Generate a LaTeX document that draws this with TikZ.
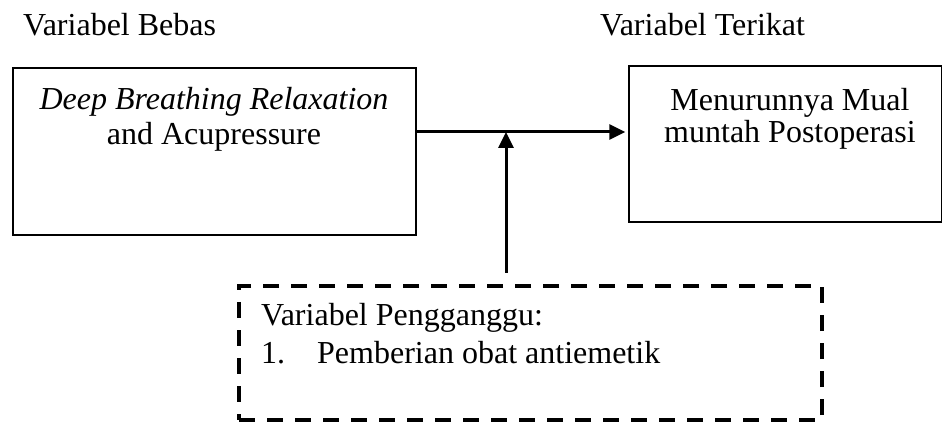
\documentclass[tikz,border=0pt]{standalone}
\usepackage{fontspec}
\setmainfont{Liberation Serif}
\usetikzlibrary{arrows.meta,calc}
\begin{document}
\begin{tikzpicture}[x=1pt,y=-1pt,
  txt/.style={inner sep=0pt, font=\fontsize{32}{38}\selectfont},
  box/.style={draw=black, line width=1.5pt, inner sep=0pt},
  arr/.style={line width=3pt, -{Triangle[length=16pt,width=15pt]}},
  dbox/.style={draw=black, line width=4.2pt, dash pattern=on 16pt off 12pt, inner sep=0pt}]
\useasboundingbox (0,0) rectangle (943,422);
\node[txt, anchor=base west] (hb) at (23,36) {Variabel Bebas};
\node[txt, anchor=base west] (ht) at (600,36) {Variabel Terikat};
\node[box, minimum width=403pt, minimum height=167pt] (lbox) at (214.5,151.5) {};
\node[box, minimum width=312.5pt, minimum height=156pt] (rbox) at (785.25,144) {};
\node[dbox, minimum width=583pt, minimum height=134pt] (dbox) at (530.5,353) {};
\node[txt, anchor=base] (l1) at (214,110) {\textit{Deep Breathing Relaxation}};
\node[txt, anchor=base] (l2) at (214,145) {and Acupressure};
\node[txt, anchor=base] (r1) at (790,111) {Menurunnya Mual};
\node[txt, anchor=base] (r2) at (790,143) {muntah Postoperasi};
\node[txt, anchor=base west] (d1) at (261,325) {Variabel Pengganggu:};
\node[txt, anchor=base west] (d2) at (261,363) {1.};
\node[txt, anchor=base west] (d3) at (317,363) {Pemberian obat antiemetik};
\coordinate (j) at (506,132);
\draw[arr, shorten >=3pt] (lbox.east |- j) -- (rbox.west |- j);
\draw[arr] ($(dbox.north -| j)+(0,-11)$) -- (j);
\end{tikzpicture}
\end{document}
